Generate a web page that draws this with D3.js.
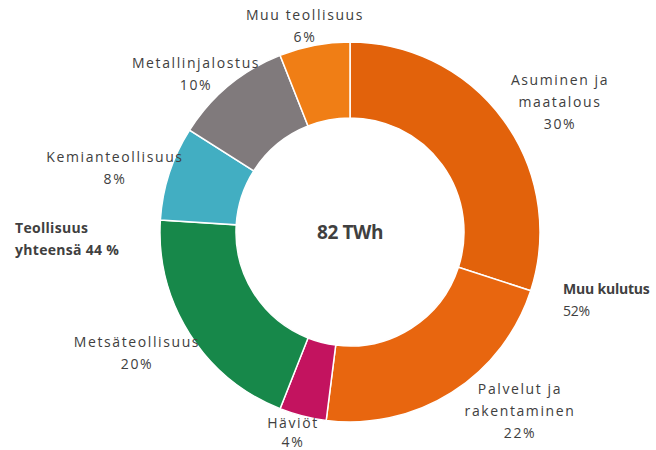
<!DOCTYPE html>
<html><head><meta charset="utf-8">
<script src="https://cdn.jsdelivr.net/npm/d3@7"></script>
<style>
html,body{margin:0;padding:0;background:#fff;}
svg{display:block;}
text{font-family:"Open Sans","Noto Sans",sans-serif;fill:#404040;}
</style></head>
<body>
<svg id="chart" width="656" height="450"></svg>
<script>
// Data
const categories = ["Asuminen ja maatalous","Palvelut ja rakentaminen","Häviöt","Metsäteollisuus","Kemianteollisuus","Metallinjalostus","Muu teollisuus"];
const labelLines = [["Asuminen ja","maatalous"],["Palvelut ja","rakentaminen"],["Häviöt"],["Metsäteollisuus"],["Kemianteollisuus"],["Metallinjalostus"],["Muu teollisuus"]];
const shares = [30, 22, 4, 20, 8, 10, 6];
const totalLabel = "82 TWh";
const groupLabels = [["Teollisuus","yhteensä 44 %"],["Muu kulutus","52%"]];

// Styles / layout
const colors = ["#E2620B","#E8660F","#C3135F","#17884A","#42AEC2","#807A7C","#F07E15"];
const cx = 350, cy = 232, outerR = 190, innerR = 114;
const labelCenters = [[560,80],[520,389],[293,423],[137,342],[115,157],[196,63],[305,15]];
const groupPos = [[15,230],[563,291]];

const svg = d3.select("#chart");
const g = svg.append("g").attr("transform",`translate(${cx},${cy})`);
const pie = d3.pie().sort(null).value(d=>d)(shares);
const arc = d3.arc().innerRadius(innerR).outerRadius(outerR);
g.selectAll("path").data(pie).join("path")
  .attr("d",arc)
  .attr("fill",(d,i)=>colors[i])
  .attr("stroke","#fff").attr("stroke-width",1.5);

g.append("text").attr("text-anchor","middle").attr("dy","0.35em")
  .style("font-size","19px").style("font-weight","bold")
  .style("letter-spacing","-0.4px")
  .text(totalLabel);

// Category labels
const lh = 22;
categories.forEach((c,i)=>{
  const [x,y] = labelCenters[i];
  const lines = labelLines[i].concat([shares[i]+"%"]);
  const t = svg.append("text").attr("text-anchor","middle")
    .style("font-size","14px").style("letter-spacing","1.6px");
  lines.forEach((l,k)=>{
    t.append("tspan").attr("x",x).attr("y",y+k*(i===2?19:lh)).attr("dy","0.35em").text(l);
  });
});

// Group labels
groupLabels.forEach((lines,i)=>{
  const [x,y] = groupPos[i];
  const t = svg.append("text").attr("text-anchor","start")
    .style("font-size","14px").style("letter-spacing", i===0 ? "0.3px" : "-0.2px");
  lines.forEach((l,k)=>{
    t.append("tspan").attr("x",x).attr("y",y+k*lh-2).attr("dy","0.35em")
      .style("font-weight", (i===1 && k===1) ? "normal" : "bold").text(l);
  });
});
</script>
</body></html>
